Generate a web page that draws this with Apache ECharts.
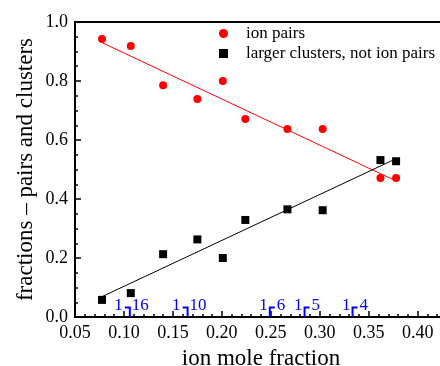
<!DOCTYPE html>
<html>
<head>
<meta charset="utf-8">
<script src="https://cdn.jsdelivr.net/npm/echarts@6/dist/echarts.min.js"></script>
<style>
  html, body { margin: 0; padding: 0; background: #fff; }
  #chart { width: 440px; height: 366px; }
</style>
</head>
<body>
<div id="chart"></div>
<script>
// Ion mole fraction for each simulated composition
const moleFraction = [0.0776, 0.107, 0.140, 0.175, 0.201, 0.224, 0.267, 0.303, 0.362, 0.378];
// Fraction of ions found as ion pairs
const ionPairs = [0.942, 0.919, 0.786, 0.739, 0.800, 0.671, 0.637, 0.637, 0.471, 0.471];
// Fraction of ions in larger clusters (not pairs)
const largerClusters = [0.058, 0.081, 0.213, 0.263, 0.200, 0.329, 0.365, 0.362, 0.532, 0.528];
// Straight-line fits (end points)
const ionPairsFit = [[0.0776, 0.930], [0.378, 0.461]];
const clustersFit = [[0.0776, 0.069], [0.375, 0.532]];
// Salt : solvent ratio markers along the x axis
const ratioX = [0.106, 0.165, 0.249, 0.2845, 0.3335];
const ratioN = ['16', '10', '6', '5', '4'];
const ratioSide = [-1, -1, 1, 1, 1];

const FONT = 'Liberation Serif, Times New Roman, serif';

const chart = echarts.init(document.getElementById('chart'), null, { renderer: 'canvas' });

const pts = (xs, ys) => xs.map((x, i) => [x, ys[i]]);

chart.setOption({
  animation: false,
  backgroundColor: '#fff',
  grid: {
    left: 75, top: 22, bottom: 49, right: -7,
    outerBoundsMode: 'none', containLabel: false,
    show: true, borderColor: '#000', borderWidth: 2, backgroundColor: 'transparent'
  },
  legend: {
    data: ['ion pairs', 'larger clusters, not ion pairs'],
    orient: 'vertical',
    left: 214, top: 20,
    itemWidth: 9, itemHeight: 9, itemGap: 3,
    textStyle: { fontFamily: FONT, fontSize: 17, color: '#000', padding: [0, 0, 0, 13], lineHeight: 17 }
  },
  xAxis: {
    type: 'value', min: 0.05, max: 0.43, interval: 0.05,
    name: 'ion mole fraction', nameLocation: 'middle', nameGap: 30,
    nameTextStyle: { fontFamily: FONT, fontSize: 23, color: '#000' },
    axisLine: { lineStyle: { color: '#000', width: 2 } },
    axisTick: { inside: true, length: 6, lineStyle: { color: '#000', width: 1.5 } },
    minorTick: { show: true, splitNumber: 5, length: 3, lineStyle: { color: '#000', width: 1.5 } },
    splitLine: { show: false },
    axisLabel: {
      fontFamily: FONT, fontSize: 18, color: '#000', margin: 7,
      showMaxLabel: false,
      formatter: v => v.toFixed(2)
    }
  },
  yAxis: {
    type: 'value', min: 0, max: 1, interval: 0.2,
    name: 'fractions \u2013 pairs and clusters', nameLocation: 'middle', nameGap: 38,
    nameMoveOverlap: false,
    nameTextStyle: { fontFamily: FONT, fontSize: 23, color: '#000' },
    axisLine: { lineStyle: { color: '#000', width: 2 } },
    axisTick: { inside: true, length: 6, lineStyle: { color: '#000', width: 1.5 } },
    minorTick: { show: true, splitNumber: 4, length: 3, lineStyle: { color: '#000', width: 1.5 } },
    splitLine: { show: false },
    axisLabel: {
      fontFamily: FONT, fontSize: 18, color: '#000', margin: 7,
      formatter: v => v.toFixed(1)
    }
  },
  series: [
    {
      name: 'ion pairs fit', type: 'line', data: ionPairsFit, symbol: 'none',
      lineStyle: { color: '#ff0000', width: 1 }, z: 2
    },
    {
      name: 'clusters fit', type: 'line', data: clustersFit, symbol: 'none',
      lineStyle: { color: '#000', width: 1 }, z: 2
    },
    {
      name: 'ion pairs', type: 'scatter', data: pts(moleFraction, ionPairs),
      symbol: 'circle', symbolSize: 8, itemStyle: { color: '#ff0000', opacity: 1 }, z: 3
    },
    {
      name: 'larger clusters, not ion pairs', type: 'scatter', data: pts(moleFraction, largerClusters),
      symbol: 'rect', symbolSize: 8, itemStyle: { color: '#000', opacity: 1 }, z: 3
    },
    {
      name: 'ratios', type: 'custom', z: 4,
      data: ratioX.map((x, i) => [x, i]),
      renderItem: (params, api) => {
        const i = api.value(1);
        const p = api.coord([api.value(0), 0]);
        const side = ratioSide[i];
        const top = p[1] - 9.5;
        const hx0 = side < 0 ? p[0] - 5 : p[0];
        const hx1 = side < 0 ? p[0] : p[0] + 5;
        const blue = '#0000ff';
        return {
          type: 'group',
          children: [
            {
              type: 'polyline',
              shape: { points: side < 0
                ? [[hx0, top], [p[0], top], [p[0], p[1]]]
                : [[hx1, top], [p[0], top], [p[0], p[1]]] },
              style: { stroke: blue, lineWidth: 2, fill: null }
            },
            {
              type: 'text',
              style: { text: '1', x: hx0 - 2, y: p[1] - 11, align: 'right', verticalAlign: 'middle',
                fill: blue, font: '17px ' + FONT }
            },
            {
              type: 'text',
              style: { text: ratioN[i], x: hx1 + 2, y: p[1] - 11, align: 'left', verticalAlign: 'middle',
                fill: blue, font: '17px ' + FONT }
            }
          ]
        };
      }
    }
  ]
});
</script>
</body>
</html>
